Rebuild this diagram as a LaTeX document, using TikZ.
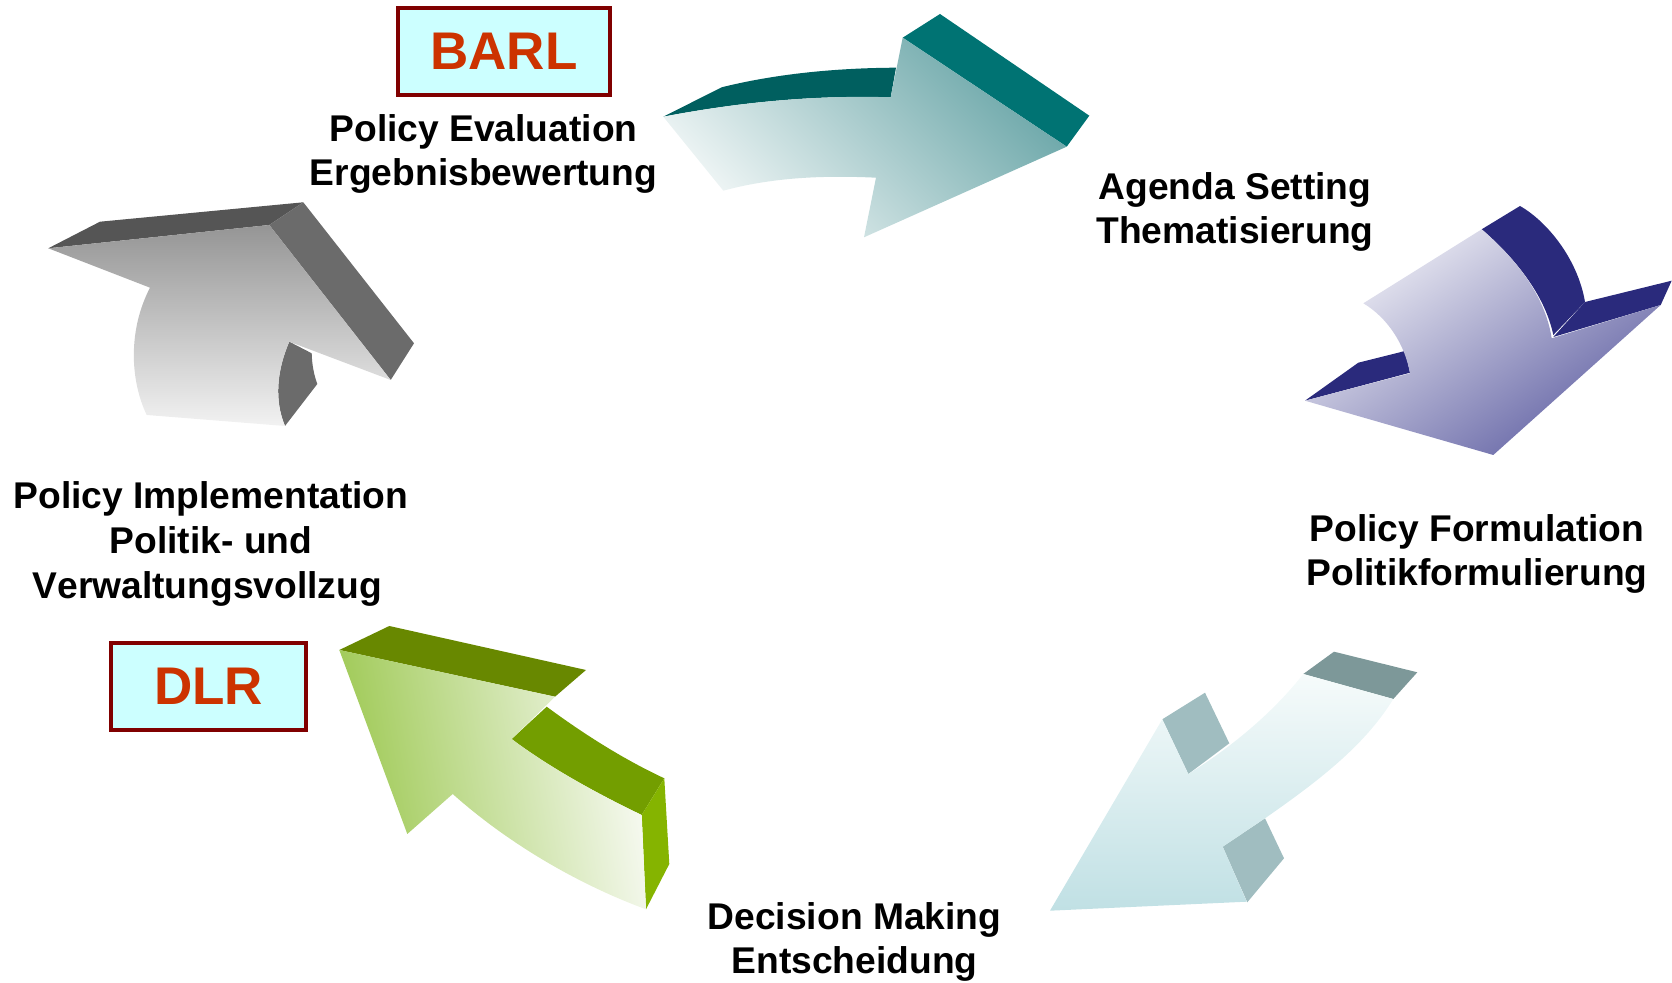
\documentclass[tikz,border=0pt]{standalone}
\usepackage{fontspec}
\setmainfont[Kerning=Off]{Liberation Sans}
\definecolor{tealtop}{HTML}{005F5F}
\definecolor{tealhead}{HTML}{007373}
\definecolor{tealdark}{HTML}{6AA6A8}
\definecolor{teallight}{HTML}{F2F7F7}
\definecolor{navyface}{HTML}{2A2A7C}
\definecolor{navydark}{HTML}{6262A4}
\definecolor{navylight}{HTML}{F0F0F6}
\definecolor{paletop}{HTML}{7D9899}
\definecolor{paleside}{HTML}{A0BDC0}
\definecolor{paledark}{HTML}{C0E0E4}
\definecolor{palelight}{HTML}{F6FBFB}
\definecolor{greentop}{HTML}{688800}
\definecolor{greeninner}{HTML}{739E00}
\definecolor{greenend}{HTML}{85B400}
\definecolor{greendark}{HTML}{9CC850}
\definecolor{greenlight}{HTML}{F8FAF4}
\definecolor{greytop}{HTML}{555555}
\definecolor{greyside}{HTML}{6B6B6B}
\definecolor{greydark}{HTML}{959595}
\definecolor{greylight}{HTML}{F2F2F2}
\definecolor{badgefill}{HTML}{CCFFFF}
\definecolor{badgeline}{HTML}{800000}
\definecolor{badgetext}{HTML}{CC3300}
\tikzset{
  phase/.style={align=center,font=\fontsize{18.6}{22.4}\selectfont\bfseries,inner sep=0pt},
  badge/.style={draw=badgeline,fill=badgefill,text=badgetext,line width=2pt,
    font=\fontsize{26.5}{30}\selectfont\bfseries,inner sep=0pt}
}
\begin{document}
\begin{tikzpicture}[x=.5pt,y=-.5pt]
    \useasboundingbox (0,0) rectangle (1672,983);
    \begin{scope}
        \fill[tealtop] (663.3,116.7)--(721.7,87.3) .. controls (775,74) and (835,68) .. (896,67.7)--(890.7,97.3) .. controls (815,95) and (740,102) .. cycle;
        \fill[tealhead] (902.7,37.7)--(940,14)--(1089.3,115.7)--(1066.7,146.7)--cycle;
        \shade[bottom color=teallight,top color=tealdark,shading angle=-45] (663.3,116.7) .. controls (740,102) and (815,95) .. (890.7,97.3)--(902.7,37.7)--(1066.7,146.7)--(864,237.3)--(876,177.7) .. controls (820,175) and (770,178) .. (723.3,190.7)--cycle;
    \end{scope}
    \begin{scope}
        \fill[navyface] (1481.7,229.3)--(1520,206) .. controls (1548,222) and (1578,260) .. (1585,302)--(1553.3,335) .. controls (1545,295) and (1515,258) .. cycle;
        \fill[navyface] (1553.3,337)--(1585,302)--(1671.7,280.7)--(1660.7,305)--cycle;
        \fill[navyface] (1305,400.7)--(1358.3,362.7)--(1405,351)--(1410,372.7)--cycle;
        \shade[top color=navylight,bottom color=navydark,shading angle=35] (1363.3,303.3)--(1481.7,229.3) .. controls (1515,258) and (1545,295) .. (1551.7,338.3)--(1660.7,305)--(1493.3,455)--(1305,400.7)--(1410,373.3) .. controls (1405,345) and (1388,318) .. cycle;
    \end{scope}
    \begin{scope}
        \fill[paletop] (1303.3,674)--(1334,651.7)--(1417.3,672.3)--(1393.3,699)--cycle;
        \fill[paleside] (1162.3,719.3)--(1205,692.7)--(1229.3,743.3)--(1188.3,774)--cycle;
        \fill[paleside] (1222.7,846.7)--(1265,818.3)--(1284,858.3)--(1247.3,902.3)--cycle;
        \shade[top color=palelight,bottom color=paledark] (1050,910.7)--(1162.3,719.3)--(1188.3,774) .. controls (1235,745) and (1275,710) .. (1303.3,674)--(1393.3,699) .. controls (1365,745) and (1320,780) .. (1265,818.3)--(1222.7,846.7)--(1246.7,901.7)--cycle;
    \end{scope}
    \begin{scope}
        \fill[greentop] (339.3,650)--(389.3,626)--(586,670)--(555,696.7)--cycle;
        \fill[greeninner] (546.7,706.7) .. controls (585,735) and (625,760) .. (664.3,778.3)--(641.7,815) .. controls (600,795) and (550,768) .. (511.7,739)--cycle;
        \fill[greenend] (664.3,778.3)--(669.3,864)--(646,909.3)--(641.7,815)--cycle;
        \shade[left color=greendark,right color=greenlight,shading angle=100] (339.3,650)--(555,696.7)--(511.7,739) .. controls (550,768) and (600,795) .. (641.7,815)--(646,909.3) .. controls (580,885) and (510,845) .. (452.7,794)--(407.3,834)--cycle;
    \end{scope}
    \begin{scope}
        \fill[greytop] (48.3,248.3)--(100,221.7)--(303.3,202.3)--(269.3,225)--cycle;
        \fill[greyside] (269.3,225)--(303.3,202.3)--(414,343.3)--(390.7,380)--cycle;
        \fill[greyside] (289.3,341.7)--(311.7,353.3) .. controls (312,365) and (314,375) .. (317.3,384)--(285,426) .. controls (274,400) and (277,370) .. cycle;
        \shade[top color=greydark,bottom color=greylight] (48.3,248.3)--(269.3,225)--(390.7,380)--(289.3,341.7) .. controls (277,370) and (274,400) .. (285,426)--(146.7,415) .. controls (130,380) and (128,330) .. (150,287.7)--cycle;
    \end{scope}
    \node[phase] (evaluation) at (483.5,154) {Policy Evaluation\\Ergebnisbewertung};
    \node[phase] (agenda) at (1235,212) {Agenda Setting\\Thematisierung};
    \node[phase] (formulation) at (1477,554) {Policy Formulation\\Politikformulierung};
    \node[phase] (decision) at (854.5,942) {Decision Making\\Entscheidung};
    \node[phase] (implementation) at (211,544) {Policy Implementation\\Politik- und\\Verwaltungsvollzug\hspace*{3.7pt}};
    \node[badge,minimum width=105.9pt,minimum height=43.3pt] (barl) at (503.8,51.3) {BARL};
    \node[badge,minimum width=97.6pt,minimum height=43.2pt] (dlr) at (208.5,686.7) {DLR};
\end{tikzpicture}
\end{document}
